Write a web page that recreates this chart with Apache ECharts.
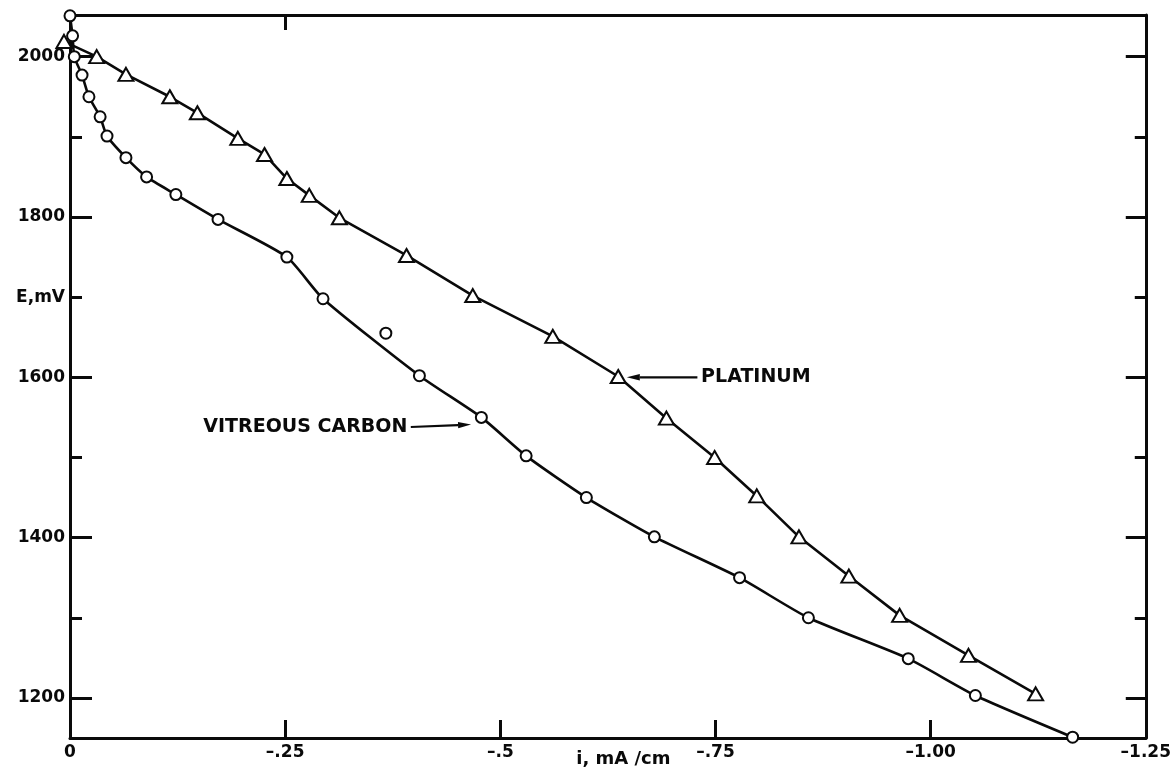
<!DOCTYPE html>
<html>
<head>
<meta charset="utf-8">
<script src="https://cdn.jsdelivr.net/npm/echarts@6/dist/echarts.min.js"></script>
<style>
  html, body { margin: 0; padding: 0; background: #fff; }
  #chart { width: 1174px; height: 772px; }
</style>
</head>
<body>
<div id="chart"></div>
<script>
// Polarization curves: current density i (mA/cm) vs. potential E (mV)
const platinumI = [0.007, -0.031, -0.065, -0.116, -0.148, -0.195, -0.226, -0.252, -0.278, -0.313, -0.391,
  -0.468, -0.561, -0.637, -0.693, -0.749, -0.798, -0.847, -0.905, -0.964, -1.044, -1.122];
const platinumE = [2019, 2000, 1978, 1950, 1930, 1898, 1878, 1848, 1827, 1799, 1752,
  1702, 1651, 1601, 1549, 1500, 1452, 1401, 1352, 1303, 1253, 1205];

const carbonI = [0.0, -0.003, -0.005, -0.014, -0.022, -0.035, -0.043, -0.065, -0.089, -0.123, -0.172,
  -0.252, -0.294, -0.406, -0.478, -0.530, -0.600, -0.679, -0.778, -0.858, -0.974, -1.052, -1.165];
const carbonE = [2051, 2026, 2000, 1977, 1950, 1925, 1901, 1874, 1850, 1828, 1797,
  1750, 1698, 1602, 1550, 1502, 1450, 1401, 1350, 1300, 1249, 1203, 1151];

// off-curve reading on the carbon electrode
const carbonStrayI = [-0.367];
const carbonStrayE = [1655];

// axis labels
const xTickValues = [0, -0.25, -0.5, -0.75, -1.0, -1.25];
const xTickLabels = ['0', '\u2013.25', '\u2013.5', '\u2013.75', '\u20131.00', '\u20131.25'];
const yLabelValues = [1200, 1400, 1600, 1700, 1800, 2000];
const yLabelTexts = ['1200', '1400', '1600', 'E,mV', '1800', '2000'];
const yMajorTicks = [1200, 1400, 1600, 1800, 2000];
const yMinorTicks = [1300, 1500, 1700, 1900];
const xBottomTicks = [-0.25, -0.5, -0.75, -1.0];
const xTopTicks = [-0.25];

const FONT = 'DejaVu Sans';
const INK = '#0a0a0a';
const Y_MIN = 1150, Y_MAX = 2052;

const chart = echarts.init(document.getElementById('chart'), null, { renderer: 'canvas' });

function yAxisDef(position, ticks, tickLen, withLine, withLabels) {
  return {
    type: 'value', position: position, min: Y_MIN, max: Y_MAX,
    splitLine: { show: false },
    axisLine: { show: withLine, lineStyle: { color: INK, width: 3 } },
    axisTick: { show: true, inside: true, length: tickLen, customValues: ticks,
      lineStyle: { color: INK, width: 3 } },
    axisLabel: withLabels ? {
      show: true, customValues: yLabelValues, margin: 5,
      color: INK, fontFamily: FONT, fontWeight: 'bold', fontSize: 17,
      formatter: function (v) { return yLabelTexts[yLabelValues.indexOf(v)]; }
    } : { show: false }
  };
}

function xAxisDef(position, ticks, tickLen, withLabels) {
  return {
    type: 'value', position: position, min: -1.25, max: 0, inverse: true,
    splitLine: { show: false },
    axisLine: { show: true, onZero: false, lineStyle: { color: INK, width: 3 } },
    axisTick: { show: true, inside: true, length: tickLen, customValues: ticks,
      lineStyle: { color: INK, width: 3 } },
    axisLabel: withLabels ? {
      show: true, customValues: xTickValues, margin: 6, showMinLabel: true, showMaxLabel: true,
      color: INK, fontFamily: FONT, fontWeight: 'bold', fontSize: 17,
      formatter: function (v) {
        const k = xTickValues.findIndex(function (t) { return Math.abs(t - v) < 1e-9; });
        return k >= 0 ? xTickLabels[k] : '';
      }
    } : { show: false }
  };
}

const markStyle = { color: INK, borderColor: INK, borderWidth: 2.2, opacity: 1 };

const option = {
  animation: false,
  backgroundColor: '#fff',
  grid: { left: 70, right: 26, top: 15, bottom: 34, containLabel: false },
  xAxis: [xAxisDef('bottom', xBottomTicks, 18, true), xAxisDef('top', xTopTicks, 15, false)],
  yAxis: [
    yAxisDef('left', yMajorTicks, 22, true, true),
    yAxisDef('left', yMinorTicks, 12, false, false),
    yAxisDef('right', yMajorTicks, 20, true, false),
    yAxisDef('right', yMinorTicks, 11, false, false)
  ],
  series: [
    {
      type: 'line', name: 'PLATINUM', xAxisIndex: 0, yAxisIndex: 0,
      data: platinumI.map(function (v, k) { return [v, platinumE[k]]; }),
      symbol: 'emptyTriangle', symbolSize: [15, 13], clip: false, z: 3,
      lineStyle: { color: INK, width: 2.6 },
      itemStyle: markStyle
    },
    {
      type: 'line', name: 'VITREOUS CARBON', xAxisIndex: 0, yAxisIndex: 0,
      data: carbonI.map(function (v, k) { return [v, carbonE[k]]; }),
      symbol: 'emptyCircle', symbolSize: 11, clip: false, z: 3, smooth: 0.2,
      lineStyle: { color: INK, width: 2.6 },
      itemStyle: markStyle
    },
    {
      type: 'scatter', name: 'VITREOUS CARBON (stray)', xAxisIndex: 0, yAxisIndex: 0,
      data: carbonStrayI.map(function (v, k) { return [v, carbonStrayE[k]]; }),
      symbol: 'emptyCircle', symbolSize: 11, z: 3,
      itemStyle: markStyle
    }
  ]
};

chart.setOption(option);

// Annotations placed in data coordinates
function px(i, e) { return chart.convertToPixel({ xAxisIndex: 0, yAxisIndex: 0 }, [i, e]); }

function arrow(from, to) {
  const dx = to[0] - from[0], dy = to[1] - from[1];
  const len = Math.sqrt(dx * dx + dy * dy), ux = dx / len, uy = dy / len;
  const hl = 13, hw = 3.2;
  const bx = to[0] - ux * hl, by = to[1] - uy * hl;
  return [
    { type: 'line', shape: { x1: from[0], y1: from[1], x2: bx, y2: by },
      style: { stroke: INK, lineWidth: 2.2 } },
    { type: 'polygon', shape: { points: [to, [bx - uy * hw, by + ux * hw], [bx + uy * hw, by - ux * hw]] },
      style: { fill: INK } }
  ];
}

const ptText = px(-0.731, 1600);
const ptFrom = px(-0.729, 1600);
const ptTip = px(-0.647, 1600);
const vcText = px(-0.392, 1538);
const vcFrom = px(-0.396, 1538);
const vcTip = px(-0.466, 1541);
const xName = px(-0.643, Y_MIN);

const graphics = [];
graphics.push({ type: 'text', x: ptText[0] + 2, y: ptText[1],
  style: { text: 'PLATINUM', fill: INK, font: 'bold 19px "' + FONT + '"', align: 'left', verticalAlign: 'middle' } });
graphics.push.apply(graphics, arrow(ptFrom, ptTip));
graphics.push({ type: 'text', x: vcText[0], y: vcText[1],
  style: { text: 'VITREOUS CARBON', fill: INK, font: 'bold 19px "' + FONT + '"', align: 'right', verticalAlign: 'middle' } });
graphics.push.apply(graphics, arrow(vcFrom, vcTip));
graphics.push({ type: 'text', x: xName[0], y: xName[1] + 21,
  style: { text: 'i, mA /cm', fill: INK, font: 'bold 18px "' + FONT + '"', align: 'center', verticalAlign: 'middle' } });

chart.setOption({ graphic: graphics });
</script>
</body>
</html>
